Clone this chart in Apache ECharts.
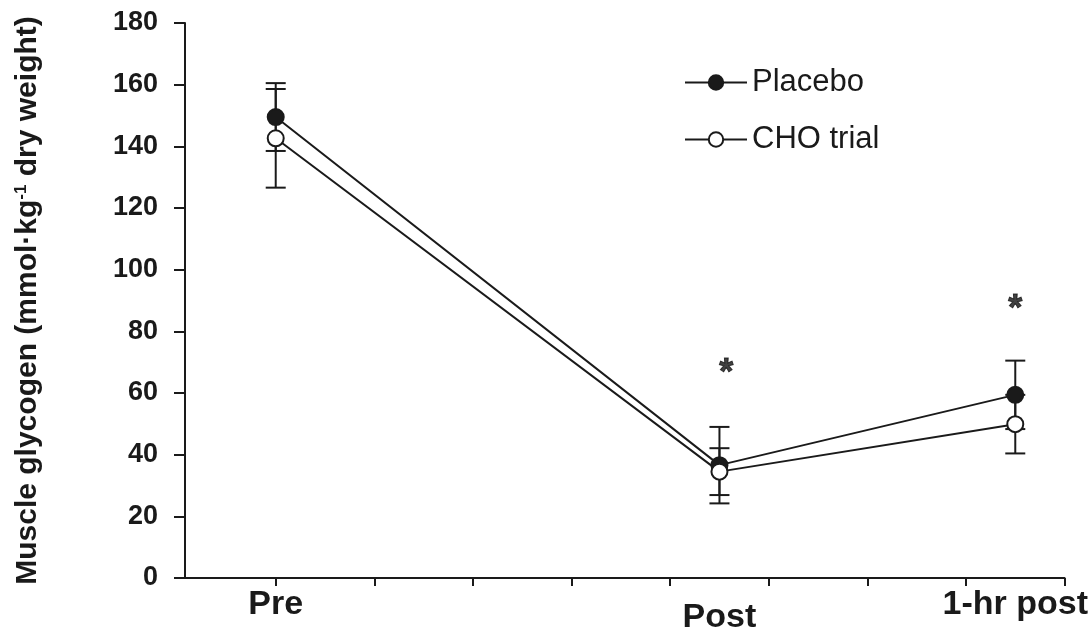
<!DOCTYPE html>
<html>
<head>
<meta charset="utf-8">
<script src="https://cdn.jsdelivr.net/npm/echarts@6/dist/echarts.min.js"></script>
<style>
  html, body { margin: 0; padding: 0; background: #fff; }
  #chart { width: 1091px; height: 636px; }
</style>
</head>
<body>
<div id="chart"></div>
<script>
// ---- data ----
const categories = ['Pre', 'Post', '1-hr post'];
const xPositions = [0, 4.5, 7.5];
const placeboMean = [149.5, 36.6, 59.4];
const placeboErr = [11.0, 12.4, 11.1];
const choMean = [142.6, 34.5, 49.9];
const choErr = [16.0, 7.6, 9.5];
const xTickValues = [0, 1, 2, 3, 4, 5, 6, 7, 8];
const starX = [4.57, 7.5];
const starY = [67.8, 88.5];
const seriesNames = ['Placebo', 'CHO trial'];

const FONT = '"Liberation Sans", Arial, sans-serif';

function pts(means) {
  return xPositions.map((x, i) => [x, means[i]]);
}
function errData(means, errs) {
  return xPositions.map((x, i) => [x, means[i] - errs[i], means[i] + errs[i]]);
}

function errorBarRender(params, api) {
  const x = api.value(0);
  const lo = api.coord([x, api.value(1)]);
  const hi = api.coord([x, api.value(2)]);
  const half = 10;
  const style = { stroke: '#1a1a1a', lineWidth: 2 };
  return {
    type: 'group',
    children: [
      { type: 'line', shape: { x1: lo[0], y1: lo[1], x2: hi[0], y2: hi[1] }, style },
      { type: 'line', shape: { x1: lo[0] - half, y1: lo[1], x2: lo[0] + half, y2: lo[1] }, style },
      { type: 'line', shape: { x1: hi[0] - half, y1: hi[1], x2: hi[0] + half, y2: hi[1] }, style }
    ]
  };
}

const chart = echarts.init(document.getElementById('chart'), null, { renderer: 'canvas' });

const option = {
  backgroundColor: '#ffffff',
  animation: false,
  grid: { left: 185, right: 20, top: 23, bottom: 58, containLabel: false },
  legend: {
    orient: 'vertical',
    left: 679,
    top: 62,
    itemWidth: 62,
    itemHeight: 18,
    itemGap: 26,
    data: seriesNames,
    textStyle: { fontFamily: FONT, fontSize: 31, color: '#1a1a1a', lineHeight: 31 }
  },
  xAxis: {
    type: 'value',
    min: -0.92,
    max: 8,
    splitLine: { show: false },
    axisLine: { show: true, onZero: false, lineStyle: { color: '#1a1a1a', width: 2 } },
    axisTick: { show: true, length: 8, lineStyle: { color: '#1a1a1a', width: 2 }, customValues: xTickValues },
    axisLabel: {
      show: true,
      customValues: xPositions,
      margin: 10,
      fontFamily: FONT,
      fontSize: 34,
      fontWeight: 'bold',
      color: '#1a1a1a',
      formatter: function (v) {
        const i = xPositions.findIndex(p => Math.abs(p - v) < 1e-6);
        if (i < 0) return '';
        if (i === 1) return '{low|' + categories[i] + '}';
        return categories[i];
      },
      rich: {
        low: { fontFamily: FONT, fontSize: 34, fontWeight: 'bold', color: '#1a1a1a', padding: [13, 0, 0, 0] }
      }
    }
  },
  yAxis: {
    type: 'value',
    min: 0,
    max: 180,
    interval: 20,
    splitLine: { show: false },
    axisLine: { show: true, onZero: false, lineStyle: { color: '#1a1a1a', width: 2 } },
    axisTick: { show: true, length: 11, lineStyle: { color: '#1a1a1a', width: 2 } },
    axisLabel: {
      margin: 27,
      fontFamily: FONT,
      fontSize: 27,
      fontWeight: 'bold',
      color: '#1a1a1a'
    },
    name: '{a|Muscle glycogen (mmol·kg}{s|-1}{a| dry weight)}',
    nameLocation: 'middle',
    nameRotate: 90,
    nameGap: 142,
    nameTextStyle: {
      rich: {
        a: { fontFamily: FONT, fontSize: 30, fontWeight: 'bold', color: '#1a1a1a', verticalAlign: 'bottom' },
        s: { fontFamily: FONT, fontSize: 17, fontWeight: 'bold', color: '#1a1a1a', verticalAlign: 'top' }
      }
    }
  },
  series: [
    {
      type: 'custom',
      name: 'errPlacebo',
      renderItem: errorBarRender,
      data: errData(placeboMean, placeboErr),
      encode: { x: 0, y: [1, 2] },
      z: 1,
      silent: true
    },
    {
      type: 'custom',
      name: 'errCHO',
      renderItem: errorBarRender,
      data: errData(choMean, choErr),
      encode: { x: 0, y: [1, 2] },
      z: 1,
      silent: true
    },
    {
      type: 'line',
      name: seriesNames[0],
      data: pts(placeboMean),
      symbol: 'circle',
      symbolSize: 16,
      showAllSymbol: true,
      lineStyle: { color: '#1a1a1a', width: 2 },
      itemStyle: { color: '#1a1a1a', borderColor: '#1a1a1a', borderWidth: 2 },
      z: 3
    },
    {
      type: 'line',
      name: seriesNames[1],
      data: pts(choMean),
      symbol: 'circle',
      symbolSize: 16,
      showAllSymbol: true,
      lineStyle: { color: '#1a1a1a', width: 2 },
      itemStyle: { color: '#ffffff', borderColor: '#1a1a1a', borderWidth: 2 },
      z: 4
    },
    {
      type: 'scatter',
      name: 'stars',
      data: starX.map((x, i) => [x, starY[i]]),
      symbolSize: 2,
      itemStyle: { color: 'rgba(0,0,0,0)' },
      label: {
        show: true,
        position: 'inside',
        formatter: '*',
        fontFamily: FONT,
        fontSize: 36,
        fontWeight: 'bold',
        color: '#111111',
        textBorderColor: '#111111',
        textBorderWidth: 1,
        offset: [0, 5]
      },
      silent: true,
      z: 5
    }
  ]
};

chart.setOption(option);
</script>
</body>
</html>
